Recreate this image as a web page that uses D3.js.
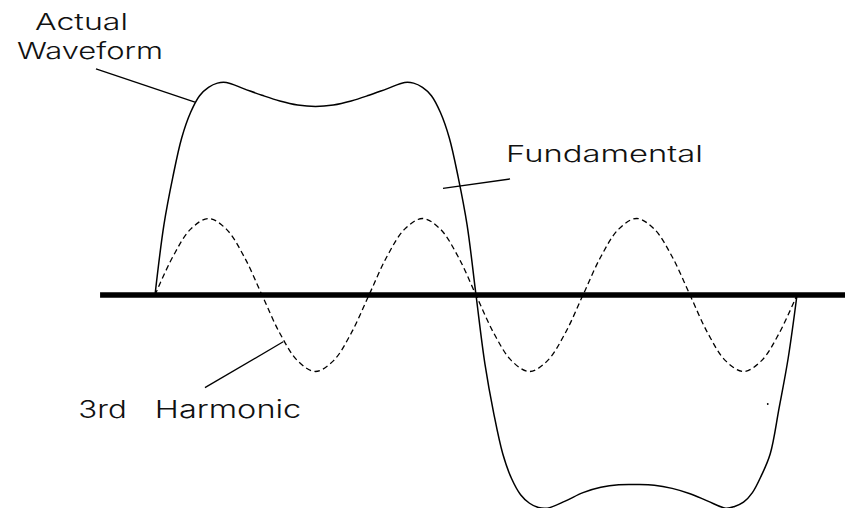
<!DOCTYPE html>
<html>
<head>
<meta charset="utf-8">
<script src="https://cdn.jsdelivr.net/npm/d3@7"></script>
<style>
  html, body { margin: 0; padding: 0; background: #fff; }
  svg { display: block; }
  text { font-family: Inter, Roboto, "DejaVu Sans", sans-serif; font-weight: 300; fill: #111; }
</style>
</head>
<body>
<svg id="chart" width="845" height="508"></svg>
<script>
// phase in degrees, one full cycle
const actualPhase = [0,5,10,15,20,25,30,35,40,50,60,70,80,90,100,110,120,130,140,145,150,155,160,165,170,175,180,
                     185,190,195,200,205,210,215,220,230,240,250,260,270,280,290,300,310,320,325,330,335,340,345,350,355,360];
// actual waveform (100 = positive peak)
const actualValues = [0,33,55.5,74,86,93.8,97.7,99.7,100,97,94,91.3,89.4,88.7,89.4,91.3,94,97,100,99.7,97.7,93.8,86,74,55.5,33,0,
                      -32.4,-55.9,-74.7,-86.5,-94,-98,-100,-100.3,-97,-93,-90.5,-89.3,-89.2,-89.5,-91,-93.5,-97,-100.3,-99.5,-97.5,-93,-85,-74.7,-53,-30,0];

// 3rd harmonic (dashed), sampled every 10 degrees
const harmonicPhase = d3.range(0, 361, 10);
const harmonicValues = [0,18,31,36,31,18,0,-18,-31,-36,-31,-18,0,18,31,36,31,18,0,
                        -18,-31,-36,-31,-18,0,18,31,36,31,18,0,-18,-31,-36,-31,-18,0];

// annotations in data units (phase, value)
const labelText = ["Actual", "Waveform", "Fundamental", "3rd", "Harmonic"];
const labelPos  = [[-67.3,124.7],[-77.4,110.9],[196.8,62.7],[-43,-58],[-0.1,-58]];
const labelLen  = [93, 146, 197, 48.5, 146.5];
const leaders = [
  [[-33.1,106.4],[22.4,90.8]],
  [[161.5,50.2],[199.1,54.6]],
  [[28,-43.6],[71.9,-22]]
];
const strayDot = [343.6,-51.3];

const svg = d3.select('#chart');

const x = d3.scaleLinear().domain([0,360]).range([155,797]);
const y = d3.scaleLinear().domain([-100,100]).range([507.5,82.5]);

// baseline axis
svg.append('line')
    .attr('x1', x(-30.8)).attr('x2', 845)
    .attr('y1', y(0)).attr('y2', y(0))
    .attr('stroke', '#000')
    .attr('stroke-width', 5.5);

const line = d3.line()
    .x(d => x(d[0]))
    .y(d => y(d[1]))
    .curve(d3.curveCatmullRom.alpha(0.5));

svg.append('path')
    .datum(d3.zip(harmonicPhase, harmonicValues))
    .attr('d', line)
    .attr('fill', 'none')
    .attr('stroke', '#000')
    .attr('stroke-width', 1.3)
    .attr('stroke-dasharray', '5.5,3.5');

svg.append('path')
    .datum(d3.zip(actualPhase, actualValues))
    .attr('d', line)
    .attr('fill', 'none')
    .attr('stroke', '#000')
    .attr('stroke-width', 1.5);

// leader lines
svg.selectAll('line.leader')
    .data(leaders)
    .enter()
    .append('line')
    .attr('class', 'leader')
    .attr('x1', d => x(d[0][0])).attr('y1', d => y(d[0][1]))
    .attr('x2', d => x(d[1][0])).attr('y2', d => y(d[1][1]))
    .attr('stroke', '#000')
    .attr('stroke-width', 1.3);

svg.append('circle')
    .attr('cx', x(strayDot[0])).attr('cy', y(strayDot[1]))
    .attr('r', 0.9)
    .attr('fill', '#000');

// labels
[0, 1, 2].forEach(i => {
  svg.append('text').attr('font-size', 23)
      .attr('x', x(labelPos[i][0])).attr('y', y(labelPos[i][1]))
      .attr('textLength', labelLen[i]).attr('lengthAdjust', 'spacingAndGlyphs')
      .text(labelText[i]);
});

const harm = svg.append('text').attr('font-size', 24);
harm.append('tspan')
    .attr('x', x(labelPos[3][0])).attr('y', y(labelPos[3][1]))
    .attr('textLength', labelLen[3]).attr('lengthAdjust', 'spacingAndGlyphs')
    .text(labelText[3]);
harm.append('tspan').text(' ');
harm.append('tspan')
    .attr('x', x(labelPos[4][0])).attr('y', y(labelPos[4][1]))
    .attr('textLength', labelLen[4]).attr('lengthAdjust', 'spacingAndGlyphs')
    .text(labelText[4]);
</script>
</body>
</html>
